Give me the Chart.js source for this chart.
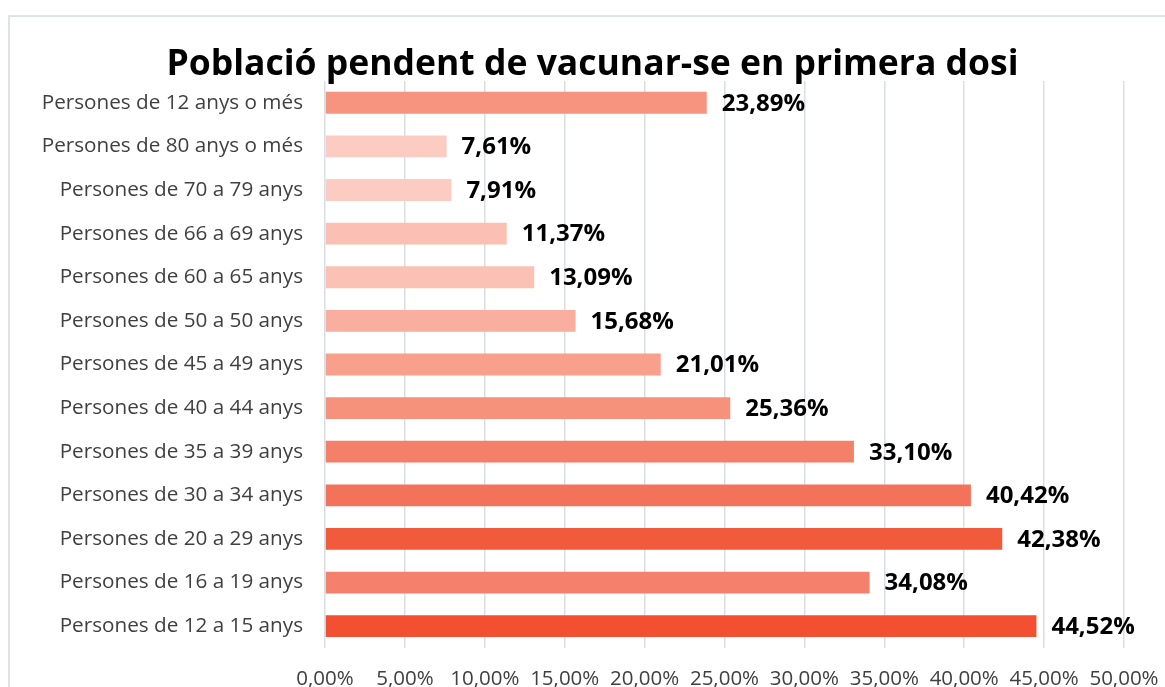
<!DOCTYPE html>
<html>
<head>
<meta charset="utf-8">
<script src="https://cdn.jsdelivr.net/npm/chart.js@4/dist/chart.umd.min.js"></script>
<style>
  html, body { margin: 0; padding: 0; background: #ffffff; overflow: hidden; }
  #frame { position: absolute; left: 8px; top: 15px; width: 1200px; height: 720px; border: 2px solid #DFE3E9; box-sizing: border-box; }
  #wrap { position: absolute; left: 0; top: 0; width: 1165px; height: 687px; }
</style>
</head>
<body>
<div id="frame"></div>
<div id="wrap"><canvas id="c" width="1165" height="687"></canvas></div>
<script>
const categories = [
  'Persones de 12 anys o més',
  'Persones de 80 anys o més',
  'Persones de 70 a 79 anys',
  'Persones de 66 a 69 anys',
  'Persones de 60 a 65 anys',
  'Persones de 50 a 50 anys',
  'Persones de 45 a 49 anys',
  'Persones de 40 a 44 anys',
  'Persones de 35 a 39 anys',
  'Persones de 30 a 34 anys',
  'Persones de 20 a 29 anys',
  'Persones de 16 a 19 anys',
  'Persones de 12 a 15 anys'
];
const values = [23.89, 7.61, 7.91, 11.37, 13.09, 15.68, 21.01, 25.36, 33.10, 40.42, 42.38, 34.08, 44.52];
const barColors = ['#F69480', '#FCCBC1', '#FCCBC1', '#FBC0B3', '#FBC1B5', '#F9AE9F', '#F8A08C', '#F6917C', '#F4806A', '#F3735A', '#F25A3C', '#F5816C', '#F25030'];
const xTicks = { min: 0, max: 50, step: 5 };
const titleText = 'Població pendent de vacunar-se en primera dosi';

const fmt = v => Number(v).toFixed(2).replace('.', ',') + '%';

const dataLabels = {
  id: 'dataLabels',
  afterDatasetsDraw(chart) {
    const ctx = chart.ctx;
    const meta = chart.getDatasetMeta(0);
    ctx.save();
    ctx.font = 'bold 24px "Open Sans"';
    ctx.fillStyle = '#000000';
    ctx.textAlign = 'left';
    ctx.textBaseline = 'middle';
    meta.data.forEach((bar, i) => {
      ctx.fillText(fmt(values[i]), bar.x + 15, bar.y + 1);
    });
    ctx.restore();
  }
};

new Chart(document.getElementById('c'), {
  type: 'bar',
  data: {
    labels: categories,
    datasets: [{
      data: values,
      backgroundColor: barColors,
      borderWidth: 0,
      categoryPercentage: 1.0,
      barPercentage: 0.5
    }]
  },
  options: {
    indexAxis: 'y',
    responsive: false,
    animation: false,
    layout: { padding: { left: 20, right: 0, top: 0, bottom: 0 } },
    plugins: {
      legend: { display: false },
      tooltip: { enabled: false },
      title: {
        display: true,
        text: titleText,
        color: '#000000',
        font: { family: '"Open Sans"', size: 35.5, weight: 'bold', lineHeight: 0.9 },
        padding: { top: 49, bottom: 0 }
      }
    },
    scales: {
      x: {
        min: xTicks.min,
        max: xTicks.max,
        ticks: {
          stepSize: xTicks.step,
          callback: v => fmt(v),
          color: '#404040',
          font: { family: '"Open Sans"', size: 20.5 },
          padding: 19,
          maxRotation: 0,
          autoSkip: false
        },
        grid: { color: '#D9DEE6', lineWidth: 1.5, drawTicks: false },
        border: { display: false },
        afterFit(s) { s.height = 39; s.paddingRight = 41; }
      },
      y: {
        ticks: {
          color: '#404040',
          font: { family: '"Open Sans"', size: 20.7 },
          padding: 22,
          autoSkip: false
        },
        grid: { display: false, drawTicks: false },
        border: { display: false },
        afterFit(s) { s.width = 305; }
      }
    }
  },
  plugins: [dataLabels]
});
</script>
</body>
</html>
